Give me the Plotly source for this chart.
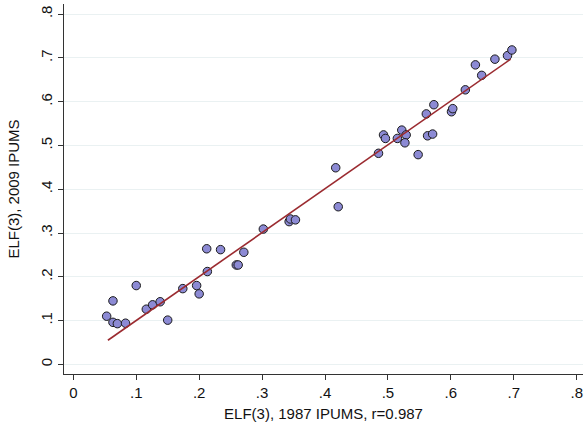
import numpy as np
import plotly.graph_objects as go

# ELF(3) 1987 vs 2009 (IPUMS)
elf_1987 = [0.053, 0.063, 0.063, 0.070, 0.083, 0.100, 0.116, 0.126, 0.138, 0.150,
            0.174, 0.196, 0.200, 0.212, 0.213, 0.234, 0.259, 0.262, 0.271, 0.302,
            0.343, 0.345, 0.353, 0.417, 0.421, 0.485, 0.493, 0.496, 0.515, 0.522,
            0.529, 0.527, 0.548, 0.563, 0.571, 0.561, 0.573, 0.601, 0.603, 0.623,
            0.649, 0.639, 0.670, 0.690, 0.697]
elf_2009 = [0.110, 0.145, 0.096, 0.093, 0.094, 0.180, 0.126, 0.136, 0.143, 0.101,
            0.173, 0.180, 0.161, 0.264, 0.212, 0.262, 0.227, 0.227, 0.256, 0.309,
            0.326, 0.332, 0.330, 0.449, 0.360, 0.482, 0.524, 0.516, 0.516, 0.535,
            0.524, 0.506, 0.479, 0.522, 0.526, 0.572, 0.593, 0.577, 0.584, 0.627,
            0.660, 0.684, 0.697, 0.705, 0.718]

# fitted line (end points)
fit_x = [0.055, 0.695]
fit_y = [0.055, 0.697]

tick_vals = [0, 0.1, 0.2, 0.3, 0.4, 0.5, 0.6, 0.7, 0.8]
tick_text = ["0", ".1", ".2", ".3", ".4", ".5", ".6", ".7", ".8"]

fig = go.Figure()
fig.add_trace(go.Scatter(
    x=elf_1987, y=elf_2009, mode="markers",
    marker=dict(size=8.5, color="#8C8AD4", line=dict(color="#1a1a1a", width=1)),
    showlegend=False, cliponaxis=False))
fig.add_trace(go.Scatter(
    x=fit_x, y=fit_y, mode="lines",
    line=dict(color="#9B2B30", width=1.6), showlegend=False))

font = dict(family="Liberation Sans, Arial, sans-serif", size=15, color="#111111")
fig.update_layout(
    width=584, height=431,
    margin=dict(l=64, r=1, t=4, b=57),
    paper_bgcolor="white", plot_bgcolor="white",
    font=font,
    xaxis=dict(
        range=[-0.0148, 0.81], tickvals=tick_vals, ticktext=tick_text,
        showgrid=False, zeroline=False, showline=True, linecolor="#333333", linewidth=1,
        ticks="outside", ticklen=5, tickcolor="#333333", tickfont=dict(size=15),
        title=dict(text="ELF(3), 1987 IPUMS, r=0.987", font=dict(size=15), standoff=8),
    ),
    yaxis=dict(
        range=[-0.022, 0.823], tickvals=tick_vals, ticktext=tick_text, tickangle=-90,
        showgrid=True, gridcolor="#EAF1F2", gridwidth=1,
        zeroline=False, showline=True, linecolor="#333333", linewidth=1,
        ticks="outside", ticklen=5, tickcolor="#333333", tickfont=dict(size=15),
        title=dict(text="ELF(3), 2009 IPUMS", font=dict(size=15), standoff=14),
    ),
)
fig.write_html("out.html")
